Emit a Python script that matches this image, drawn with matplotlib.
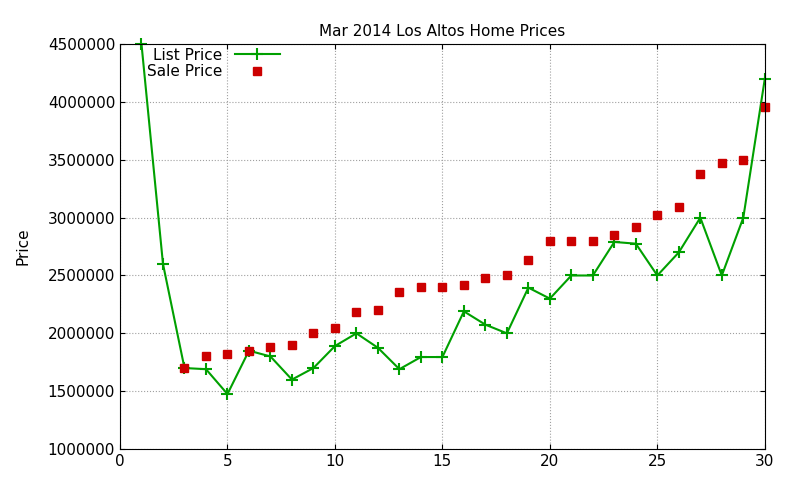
import matplotlib
matplotlib.use("Agg")
import matplotlib.pyplot as plt

days = list(range(1, 31))
list_price = [4500000, 2600000, 1700000, 1690000, 1475000, 1850000, 1800000, 1600000, 1700000, 1890000,
              2000000, 1875000, 1690000, 1795000, 1795000, 2190000, 2075000, 2000000, 2395000, 2300000,
              2500000, 2500000, 2790000, 2775000, 2500000, 2700000, 3000000, 2500000, 3000000, 4200000]
sale_days = list(range(3, 31))
sale_price = [1700000, 1800000, 1820000, 1850000, 1880000, 1900000, 2000000, 2045000, 2185000, 2200000,
              2360000, 2400000, 2400000, 2420000, 2475000, 2500000, 2635000, 2800000, 2800000, 2800000,
              2850000, 2920000, 3025000, 3095000, 3380000, 3475000, 3500000, 3960000]

fig = plt.figure(figsize=(8, 4.8), dpi=100)
ax = fig.add_axes([0.15, 0.0646, 0.806, 0.8434])
ax.plot(days, list_price, color="#00a000", marker="+", markersize=8, markeredgewidth=1.5,
        linewidth=1.5, label="List Price", clip_on=False)
ax.plot(sale_days, sale_price, linestyle="none", marker="s", markersize=6, color="#cc0000",
        label="Sale Price", clip_on=False)
ax.set_xlim(0, 30)
ax.set_ylim(1000000, 4500000)
ax.set_xticks(range(0, 31, 5))
ax.set_yticks(range(1000000, 4500001, 500000))
ax.ticklabel_format(style="plain", axis="y")
ax.tick_params(direction="in", top=True, right=True, labelsize=11)
ax.grid(True, color="#a0a0a0", linestyle=":", linewidth=0.8)
ax.set_title("Mar 2014 Los Altos Home Prices", fontsize=11)
ax.set_ylabel("Price", fontsize=11, labelpad=12)
ax.legend(loc="upper left", markerfirst=False, frameon=False, fontsize=11,
          borderaxespad=0.1, handlelength=3, labelspacing=0.1, bbox_to_anchor=(0.03, 1.01))
fig.savefig("out.png")
